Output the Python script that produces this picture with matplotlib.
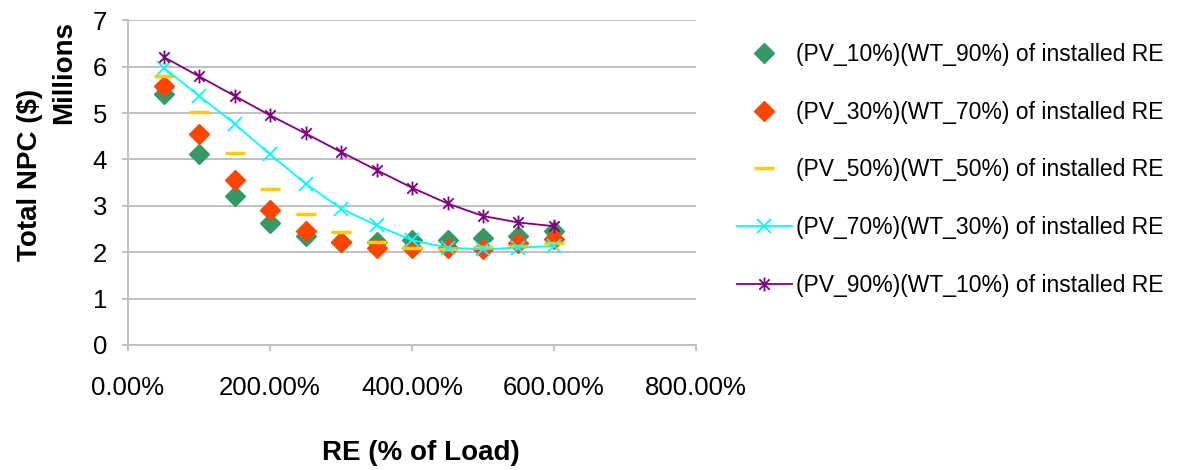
import numpy as np
import matplotlib.pyplot as plt
from matplotlib.path import Path
from matplotlib.ticker import FuncFormatter

plt.rcParams['font.family'] = ['Liberation Sans', 'DejaVu Sans']

# RE share of load (%)
re_pct = [50, 100, 150, 200, 250, 300, 350, 400, 450, 500, 550, 600]

# total NPC in millions of $
pv10_wt90 = [5.42, 4.11, 3.21, 2.63, 2.35, 2.22, 2.22, 2.26, 2.26, 2.30, 2.35, 2.46]
pv30_wt70 = [5.58, 4.54, 3.55, 2.92, 2.46, 2.22, 2.08, 2.08, 2.10, 2.06, 2.20, 2.28]
pv50_wt50 = [5.79, 5.02, 4.14, 3.36, 2.82, 2.43, 2.21, 2.10, 2.07, 2.12, 2.13, 2.20]
pv70_wt30 = [5.98, 5.37, 4.77, 4.11, 3.48, 2.94, 2.58, 2.26, 2.10, 2.06, 2.10, 2.13]
pv90_wt10 = [6.21, 5.79, 5.37, 4.95, 4.56, 4.16, 3.77, 3.39, 3.05, 2.78, 2.64, 2.56]

labels = ['(PV_10%)(WT_90%) of installed RE',
          '(PV_30%)(WT_70%) of installed RE',
          '(PV_50%)(WT_50%) of installed RE',
          '(PV_70%)(WT_30%) of installed RE',
          '(PV_90%)(WT_10%) of installed RE']

# asterisk marker: vertical bar plus an x
star = Path([(0, -1), (0, 1), (-0.75, -0.75), (0.75, 0.75), (-0.75, 0.75), (0.75, -0.75)],
            [Path.MOVETO, Path.LINETO, Path.MOVETO, Path.LINETO, Path.MOVETO, Path.LINETO])

fig = plt.figure(figsize=(11.77, 4.70), dpi=100)
ax = fig.add_axes([0.1088, 0.266, 0.4825, 0.691])

ax.plot(re_pct, pv10_wt90, linestyle='none', marker='D', markersize=10.5,
        color='#339966', label=labels[0])
ax.plot(re_pct, pv30_wt70, linestyle='none', marker='D', markersize=10.5,
        color='#ff4500', label=labels[1])
ax.plot(re_pct, pv50_wt50, linestyle='none', marker='_', markersize=15,
        markeredgewidth=2.5, color='#ffcc00', label=labels[2])
ax.plot(re_pct, pv70_wt30, color='#00ffff', linewidth=1.3, marker='x',
        markersize=9.5, markeredgewidth=1.3, label=labels[3])
ax.plot(re_pct, pv90_wt10, color='#800080', linewidth=1.3, marker=star,
        markersize=10, markeredgewidth=1.3, label=labels[4])

ax.set_xlim(0, 800)
ax.set_ylim(0, 7)
ax.set_xticks([0, 200, 400, 600, 800])
ax.set_yticks(range(8))
ax.xaxis.set_major_formatter(FuncFormatter(lambda v, p: '%.2f%%' % v))

ax.grid(axis='y', color='#c0c0c0', linewidth=1.4)
ax.set_axisbelow(True)
for side in ['top', 'right']:
    ax.spines[side].set_visible(False)
for side in ['left', 'bottom']:
    ax.spines[side].set_color('#c0c0c0')
    ax.spines[side].set_linewidth(1.4)
ax.tick_params(axis='both', colors='#c0c0c0', width=1.4, length=4,
               labelcolor='black', labelsize=18.5)
ax.tick_params(axis='x', pad=18)
ax.tick_params(axis='y', pad=11)

fig.text(30 / 1177, 0.628, 'Total NPC ($)', rotation=90, fontsize=20,
         fontweight='bold', ha='center', va='center')
fig.text(64 / 1177, 0.846, 'Millions', rotation=90, fontsize=20,
         fontweight='bold', ha='center', va='center')
fig.text(421 / 1177, 0.036, 'RE (% of Load)', fontsize=20,
         fontweight='bold', ha='center', va='center')

fig.legend(loc='upper left', bbox_to_anchor=(0.626, 0.908), frameon=False,
           fontsize=16.5, handlelength=2.4, handletextpad=0.2, labelspacing=1.51,
           borderpad=0, borderaxespad=0)

fig.savefig('out.png', dpi=100)
